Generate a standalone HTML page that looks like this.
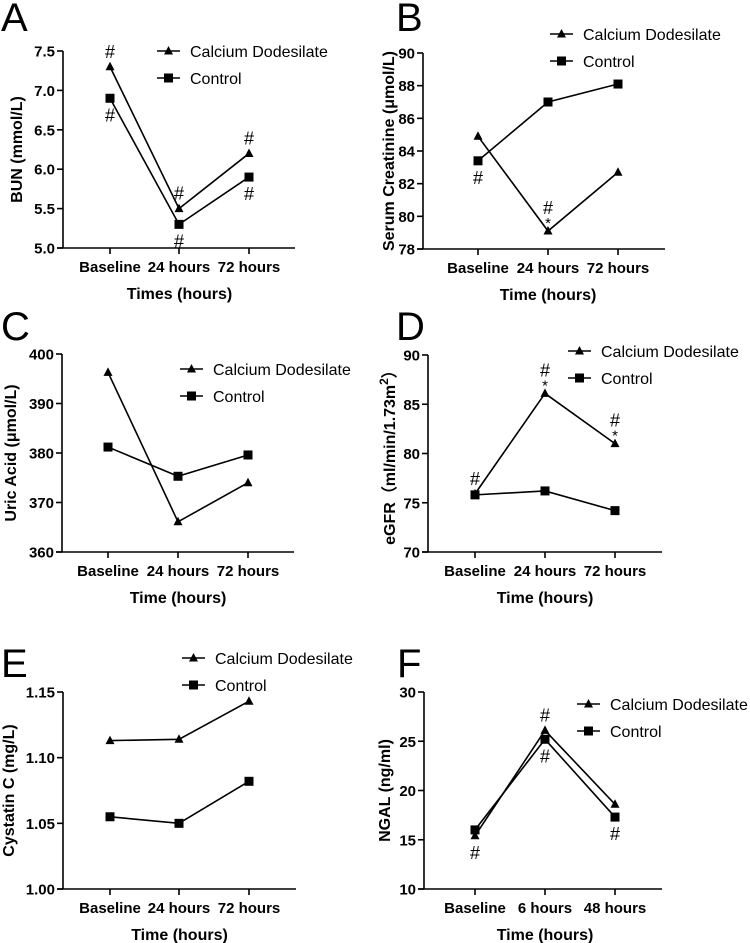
<!DOCTYPE html>
<html><head><meta charset="utf-8"><style>
body{margin:0;background:#fff}
svg{display:block}
text{font-family:"Liberation Sans",Arial,sans-serif;fill:#000}
.tk{font-size:15px;font-weight:bold}
.tt{font-size:16px;font-weight:bold}
.lg{font-size:16px}
.pl{font-size:40px}
.an{font-size:18px}
</style></head><body>
<svg id="fig" width="750" height="943" viewBox="0 0 750 943"></svg>
<script>
const aCats=["Baseline","24 hours","72 hours"];
const aCD=[7.3,5.5,6.2];
const aCtrl=[6.9,5.3,5.9];
const aTicks=["5.0","5.5","6.0","6.5","7.0","7.5"];
const bCats=["Baseline","24 hours","72 hours"];
const bCD=[84.9,79.1,82.7];
const bCtrl=[83.4,87.0,88.1];
const bTicks=["78","80","82","84","86","88","90"];
const cCats=["Baseline","24 hours","72 hours"];
const cCD=[396.3,366.1,374.0];
const cCtrl=[381.2,375.3,379.6];
const cTicks=["360","370","380","390","400"];
const dCats=["Baseline","24 hours","72 hours"];
const dCD=[75.9,86.1,81.0];
const dCtrl=[75.8,76.2,74.2];
const dTicks=["70","75","80","85","90"];
const eCats=["Baseline","24 hours","72 hours"];
const eCD=[1.113,1.114,1.143];
const eCtrl=[1.055,1.050,1.082];
const eTicks=["1.00","1.05","1.10","1.15"];
const fCats=["Baseline","6 hours","48 hours"];
const fCD=[15.4,26.1,18.6];
const fCtrl=[16.0,25.2,17.3];
const fTicks=["10","15","20","25","30"];

const NS="http://www.w3.org/2000/svg";
const fig=document.getElementById('fig');
function mk(tag,attrs,parent,txt){const e=document.createElementNS(NS,tag);for(const k in attrs)e.setAttribute(k,attrs[k]);if(txt!==undefined)e.textContent=txt;(parent||fig).appendChild(e);return e;}

function panel(p){
  const g=mk('g',{});
  
  
  const lt=mk('text',{x:p.lx,y:p.ly,class:'pl'},g,p.id);
  
  
  const t0=parseFloat(p.ticks[0]),t1=parseFloat(p.ticks[p.ticks.length-1]);
  const ys=v=>p.yb+(v-t0)/(t1-t0)*(p.yt-p.yb);
  const xs=i=>p.tx[i];
  const ya=mk('line',{x1:p.ax,y1:p.yt,x2:p.ax,y2:p.yb,stroke:'#000','stroke-width':1.6},g);
  
  
  const xa=mk('line',{x1:p.ax-6,y1:p.yb,x2:p.xe,y2:p.yb,stroke:'#000','stroke-width':1.6},g);
  
  
  p.ticks.forEach(t=>{const y=ys(parseFloat(t));
    mk('line',{x1:p.ax-6,y1:y,x2:p.ax,y2:y,stroke:'#000','stroke-width':1.6},g);
    const tl=mk('text',{x:p.ax-8,y:y+5.5,'text-anchor':'end',class:'tk'},g,t);
    
    
  });
  p.cats.forEach((c,i)=>{const x=xs(i);
    mk('line',{x1:x,y1:p.yb,x2:x,y2:p.yb+6,stroke:'#000','stroke-width':1.6},g);
    const tl=mk('text',{x:x,y:p.yb+24,'text-anchor':'middle',class:'tk'},g,c);
    
    
  });
  const xt=mk('text',{x:(p.tx[0]+p.tx[2])/2,y:p.yb+51,'text-anchor':'middle',class:'tt'},g,p.xtitle);
  
  
  const ytx=p.ytx,ytyy=(p.yt+p.yb)/2;
  const yt=mk('text',{x:ytx,y:ytyy,'text-anchor':'middle',class:'tt',transform:`rotate(-90 ${ytx} ${ytyy})`,dy:6},g);
  
  
  yt.innerHTML=p.ytitle;
  [[p.ctrl,'sq','series-control'],[p.cd,'tri','series-calcium-dodesilate']].forEach(([d,m,n])=>{
    const pts=d.map((v,i)=>xs(i)+','+ys(v)).join(' ');
    const l=mk('polyline',{points:pts,fill:'none',stroke:'#000','stroke-width':1.6},g);
    
    
    d.forEach((v,i)=>{const x=xs(i),y=ys(v);let e;
      if(m==='sq')e=mk('rect',{x:x-4.5,y:y-4.5,width:9,height:9,fill:'#000'},g);
      else e=mk('polygon',{points:`${x},${y-5} ${x-4.5},${y+3.5} ${x+4.5},${y+3.5}`,fill:'#000'},g);
      
      
    });
  });
  (p.ann||[]).forEach(a=>{const x=xs(a[0]),v=(a[1]==='cd'?p.cd:p.ctrl)[a[0]],y=ys(v);
    const yy=a[2]==='up'?y-9:y+23;
    const t=mk('text',{x:x,y:yy,'text-anchor':'middle',class:'an'},g,'#');
    
    
    if(a[3]){const s=mk('text',{x:x,y:y-3,'text-anchor':'middle',class:'an',style:'font-size:15px'},g,'*');
      
      
      t.setAttribute('y',y-17);}
  });
  [['Calcium Dodesilate','tri',p.lgy],['Control','sq',p.lgy+27]].forEach(([lab,m,y])=>{
    const lg=mk('g',{},g);
    
    
    mk('line',{x1:p.lgx,y1:y,x2:p.lgx+23,y2:y,stroke:'#000','stroke-width':1.6},lg);
    const cx=p.lgx+11.5;
    if(m==='sq')mk('rect',{x:cx-4.5,y:y-4.5,width:9,height:9,fill:'#000'},lg);
    else mk('polygon',{points:`${cx},${y-5} ${cx-4.5},${y+3.5} ${cx+4.5},${y+3.5}`,fill:'#000'},lg);
    mk('text',{x:p.lgx+33,y:y+6,class:'lg'},lg,lab);
  });
}
panel({id:'A',lx:1,ly:31,ax:63,yt:51,yb:248,xe:295,tx:[110,179,249],cats:aCats,cd:aCD,ctrl:aCtrl,ticks:aTicks,ytx:16,
  xtitle:'Times (hours)',ytitle:'BUN (mmol/L)',lgx:157,lgy:51,
  ann:[[0,'cd','up'],[1,'cd','up'],[2,'cd','up'],[0,'ctrl','dn'],[1,'ctrl','dn'],[2,'ctrl','dn']]});
panel({id:'B',lx:396,ly:31,ax:423,yt:53,yb:249,xe:665,tx:[478,548,618],cats:bCats,cd:bCD,ctrl:bCtrl,ticks:bTicks,ytx:388,
  xtitle:'Time (hours)',ytitle:'Serum Creatinine (μmol/L)',lgx:550,lgy:34,
  ann:[[0,'ctrl','dn'],[1,'cd','up',true]]});
panel({id:'C',lx:1,ly:340,ax:62,yt:354,yb:552,xe:294,tx:[108,178,248],cats:cCats,cd:cCD,ctrl:cCtrl,ticks:cTicks,ytx:10,
  xtitle:'Time (hours)',ytitle:'Uric Acid (μmol/L)',lgx:180,lgy:369});
panel({id:'D',lx:396,ly:340,ax:428,yt:355,yb:552,xe:662,tx:[475,545,615],cats:dCats,cd:dCD,ctrl:dCtrl,ticks:dTicks,ytx:389,
  xtitle:'Time (hours)',ytitle:'eGFR（ml/min/1.73m<tspan dy="-7" style="font-size:12px">2</tspan><tspan dy="7">）</tspan>',lgx:568,lgy:351,
  ann:[[0,'cd','up'],[1,'cd','up',true],[2,'cd','up',true]]});
panel({id:'E',lx:1,ly:677,ax:63,yt:692,yb:889,xe:296,tx:[110,179,249],cats:eCats,cd:eCD,ctrl:eCtrl,ticks:eTicks,ytx:8,
  xtitle:'Time (hours)',ytitle:'Cystatin C (mg/L)',lgx:182,lgy:658});
panel({id:'F',lx:397,ly:677,ax:424,yt:692,yb:889,xe:662,tx:[475,545,615],cats:fCats,cd:fCD,ctrl:fCtrl,ticks:fTicks,ytx:384,
  xtitle:'Time (hours)',ytitle:'NGAL (ng/ml)',lgx:577,lgy:704,
  ann:[[0,'cd','dn'],[1,'cd','up'],[1,'ctrl','dn'],[2,'ctrl','dn']]});
</script>
</body></html>
